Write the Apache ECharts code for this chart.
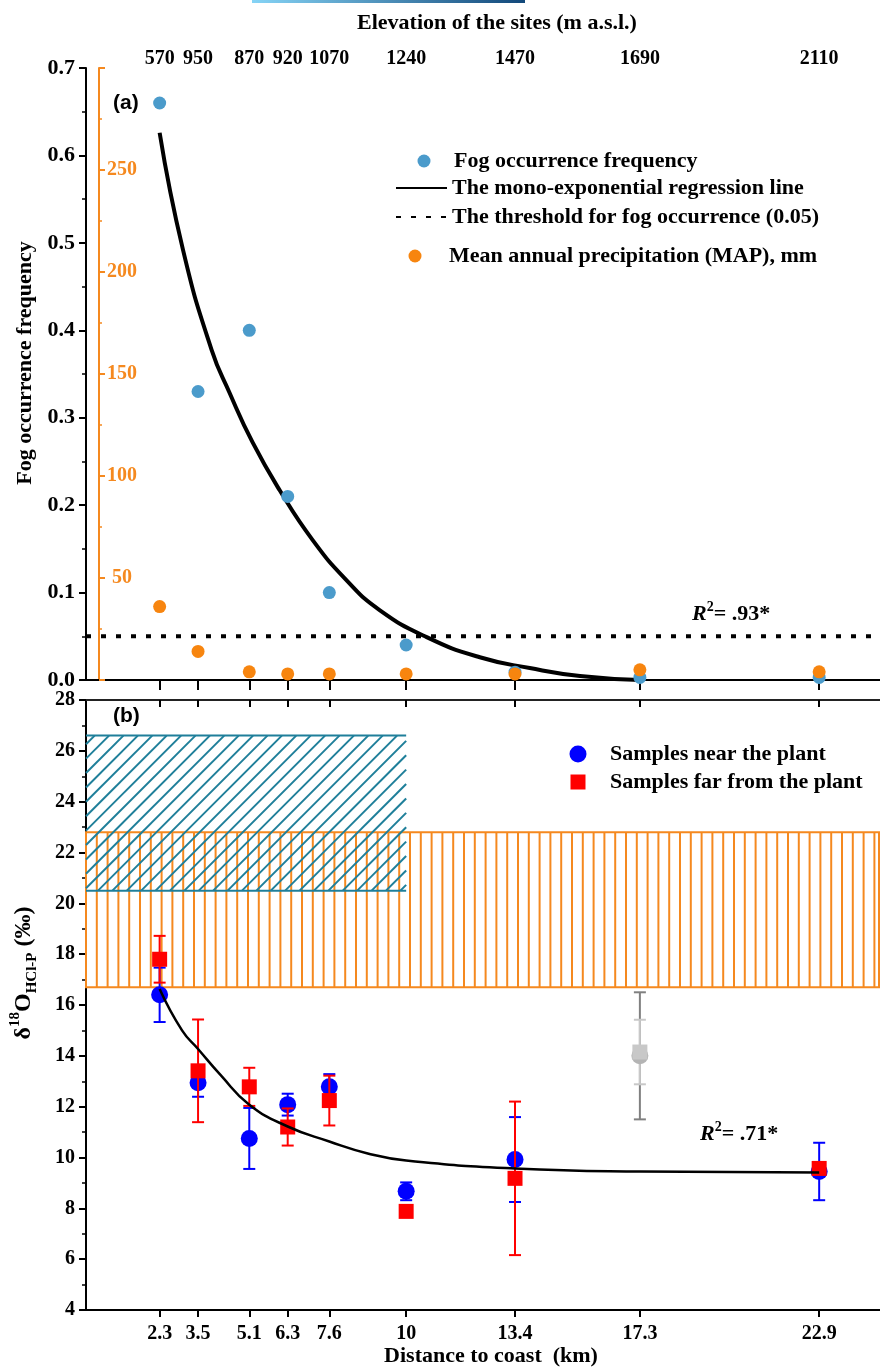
<!DOCTYPE html>
<html>
<head>
<meta charset="utf-8">
<script src="https://cdn.jsdelivr.net/npm/echarts@6/dist/echarts.min.js"></script>
<style>
  html, body { margin: 0; padding: 0; background: #fff; }
  #fog-chart { width: 880px; height: 1368px; }
</style>
</head>
<body>
<div id="fog-chart"></div>
<script>
// sites: distance to coast (km) and their elevation (m a.s.l.)
const distances = [2.3, 3.5, 5.1, 6.3, 7.6, 10, 13.4, 17.3, 22.9]
const elevations = [570, 950, 870, 920, 1070, 1240, 1470, 1690, 2110]
const xBounds = [0, 24.8]

// panel (a)
const fogFreq = [0.66, 0.33, 0.40, 0.21, 0.10, 0.04, 0.009, 0.003, 0.003]
const mapMm = [36, 14, 4, 3, 3, 3, 3, 5, 4]
const fogFitX = [2.3, 3.03, 3.92, 4.49, 5.2, 6.05, 7.08, 8.14, 9.17, 10.64, 12.3, 13.86, 15.43, 17.3]
const fogFitY = [0.626, 0.492, 0.378, 0.328, 0.272, 0.217, 0.160, 0.114, 0.080, 0.049, 0.026, 0.0137, 0.0046, 0]
const fogThreshold = 0.05

// panel (b)
const siteX = [2.3, 3.5, 5.1, 6.3, 7.6, 10, 13.4, 22.9]
const nearVal = [16.4, 12.94, 10.75, 12.08, 12.78, 8.67, 9.92, 9.45]
const nearErr = [1.07, 0.55, 1.2, 0.43, 0.5, 0.35, 1.67, 1.13]
const farVal = [17.8, 13.41, 12.78, 11.2, 12.24, 7.88, 9.18, 9.57]
const farErr = [0.92, 2.02, 0.75, 0.73, 0.98, 0.2, 3.02, 0.2]
const outX = [17.3]
const outNearVal = [14.0]
const outNearErr = [2.5]
const outFarVal = [14.15]
const outFarErr = [1.27]
const o18FitX = [2.3, 3.0, 3.5, 4.2, 5.1, 6.3, 7.6, 8.8, 10, 13.4, 17.3, 22.9]
const o18FitY = [16.63, 15.0, 14.27, 13.25, 12.08, 11.22, 10.63, 10.16, 9.88, 9.57, 9.45, 9.41]
// shaded ranges: [x from, x to, y from, y to]
const blueBand = [0, 10, 20.5, 26.6]
const orangeBand = [0, 24.8, 16.7, 22.8]

const SERIF = 'Liberation Serif'
const ORANGE = '#f5891f'
const TEAL = '#1f7f9a'
const bold = (size, color) => ({ fontFamily: SERIF, fontWeight: 'bold', fontSize: size, color: color || '#000' })
const zip = (xs, ys) => xs.map((x, i) => [x, ys[i]])

const errorBars = (color, half) => (params, api) => {
  const x = api.value(0), v = api.value(1), e = api.value(2)
  const hi = api.coord([x, v + e]), lo = api.coord([x, v - e])
  const st = { stroke: color, lineWidth: 2 }
  return {
    type: 'group', children: [
      { type: 'line', shape: { x1: hi[0], y1: hi[1], x2: lo[0], y2: lo[1] }, style: st },
      { type: 'line', shape: { x1: hi[0] - half, y1: hi[1], x2: hi[0] + half, y2: hi[1] }, style: st },
      { type: 'line', shape: { x1: lo[0] - half, y1: lo[1], x2: lo[0] + half, y2: lo[1] }, style: st }
    ]
  }
}

const hatch = (kind, color, step) => (params, api) => {
  const a = api.coord([api.value(0), api.value(3)])
  const b = api.coord([api.value(1), api.value(2)])
  const L = a[0], T = a[1], R = b[0], B = b[1]
  const st = { stroke: color, lineWidth: 2 }
  const ln = (x1, y1, x2, y2) => ({ type: 'line', shape: { x1, y1, x2, y2 }, style: st })
  const kids = []
  if (kind === 'vertical') {
    for (let x = L + step; x < R - 1; x += step) kids.push(ln(x, T, x, B))
    kids.push({ type: 'rect', shape: { x: L, y: T, width: R - L - 1, height: B - T }, style: { stroke: color, lineWidth: 2, fill: null } })
  } else {
    for (let k = L + T + step * 0.6; k < R + B; k += step) {
      const x1 = Math.max(L, k - B), x2 = Math.min(R, k - T)
      if (x2 > x1) kids.push(ln(x1, k - x1, x2, k - x2))
    }
    kids.push(ln(L, T, R, T), ln(L, B, R, B))
  }
  return { type: 'group', children: kids }
}

// legend boxes are placed by their first visible pixel
const legendAt = (item, left, cy, w, h, extra) => Object.assign({
  data: [item], left, top: cy - 11, itemWidth: w, itemHeight: h,
  padding: 0, itemGap: 0, selectedMode: false, textStyle: bold(22)
}, extra || {})
const hideSymbol = { itemStyle: { opacity: 0 } }

const chart = echarts.init(document.getElementById('fog-chart'))
chart.setOption({
  animation: false,
  backgroundColor: '#fff',
  grid: [
    { left: 86, right: 0, top: 68, height: 612 },
    { left: 86, right: 0, top: 700, height: 612 }
  ],
  legend: [
    legendAt('Fog occurrence frequency', 424 - 6.5, 161, 50, 13),
    legendAt('The mono-exponential regression line', 395, 188, 51, 13, hideSymbol),
    legendAt('The threshold for fog occurrence (0.05)', 395, 217, 51, 13, hideSymbol),
    legendAt('Mean annual precipitation (MAP), mm', 415 - 6.5, 256, 58, 13),
    legendAt('Samples near the plant', 578 - 8.5, 754, 54, 17),
    legendAt({ name: 'Samples far from the plant', icon: 'path://M0,0h10v10h-10z' }, 578 - 7.5, 782, 54, 15)
  ],
  xAxis: [
    {
      gridIndex: 0, type: 'value', position: 'bottom', min: xBounds[0], max: xBounds[1],
      axisLine: { lineStyle: { color: '#000', width: 2 } },
      axisTick: { customValues: distances, length: 7, lineStyle: { color: '#000', width: 2 } },
      axisLabel: { show: false }, splitLine: { show: false }
    },
    {
      gridIndex: 0, type: 'value', position: 'top', min: xBounds[0], max: xBounds[1],
      name: 'Elevation of the sites (m a.s.l.)', nameLocation: 'middle', nameGap: 34,
      nameTextStyle: Object.assign(bold(22), { padding: [0, 0, 0, 28] }),
      axisLine: { lineStyle: { color: '#000', width: 2 } },
      axisTick: { customValues: distances, inside: true, length: 10, lineStyle: { color: '#000', width: 2 } },
      axisLabel: Object.assign(bold(20), {
        customValues: distances, margin: -1,
        formatter: v => elevations[distances.indexOf(v)]
      }),
      splitLine: { show: false }
    },
    {
      gridIndex: 1, type: 'value', position: 'bottom', min: xBounds[0], max: xBounds[1],
      name: 'Distance to coast  (km)', nameLocation: 'middle', nameGap: 35,
      nameTextStyle: Object.assign(bold(22), { padding: [0, 0, 0, 16] }),
      axisLine: { lineStyle: { color: '#000', width: 2 } },
      axisTick: { customValues: distances, length: 7, lineStyle: { color: '#000', width: 2 } },
      axisLabel: Object.assign(bold(20), { customValues: distances, margin: 14 }),
      splitLine: { show: false }
    },
    {
      gridIndex: 1, type: 'value', position: 'top', min: xBounds[0], max: xBounds[1],
      axisLine: { lineStyle: { color: '#222', width: 2 } },
      axisTick: { customValues: distances, inside: true, length: 7, lineStyle: { color: '#000', width: 2 } },
      axisLabel: { show: false }, splitLine: { show: false }
    }
  ],
  yAxis: [
    {
      gridIndex: 0, type: 'value', min: 0, max: 0.7, interval: 0.1,
      name: 'Fog occurrence frequency', nameLocation: 'middle', nameGap: 47,
      nameTextStyle: Object.assign(bold(22), { padding: [0, 0, 0, 22] }),
      axisLine: { show: true, lineStyle: { color: '#000', width: 2 } },
      axisTick: { length: 7, lineStyle: { color: '#000', width: 2 } },
      minorTick: { show: true, splitNumber: 2, length: 4, lineStyle: { color: '#000', width: 1.5 } },
      axisLabel: Object.assign(bold(22), { margin: 11, formatter: v => v.toFixed(1) }),
      splitLine: { show: false }
    },
    {
      gridIndex: 0, type: 'value', min: 0, max: 300, interval: 50, position: 'left', offset: -13,
      axisLine: { show: true, lineStyle: { color: ORANGE, width: 2 } },
      axisTick: { inside: true, length: 6, lineStyle: { color: ORANGE, width: 2 } },
      minorTick: { show: true, splitNumber: 2, length: 3, lineStyle: { color: ORANGE, width: 1.5 } },
      axisLabel: Object.assign(bold(20, ORANGE), { inside: true, align: 'center', margin: 23, showMinLabel: false, showMaxLabel: false }),
      splitLine: { show: false }
    },
    {
      gridIndex: 1, type: 'value', min: 4, max: 28, interval: 2,
      name: '{m|δ}{sup|18}{m|O}{sub|HCl-P}{m| (‰)}', nameLocation: 'middle', nameGap: 46,
      nameTextStyle: Object.assign(bold(24), {
        padding: [0, 0, 0, 64],
        rich: {
          m: Object.assign(bold(24), { lineHeight: 32 }),
          sup: Object.assign(bold(15), { verticalAlign: 'top', lineHeight: 17 }),
          sub: Object.assign(bold(15), { verticalAlign: 'bottom', lineHeight: 15 })
        }
      }),
      axisLine: { show: true, lineStyle: { color: '#000', width: 2 } },
      axisTick: { length: 7, lineStyle: { color: '#000', width: 2 } },
      minorTick: { show: true, splitNumber: 2, length: 4, lineStyle: { color: '#000', width: 1.5 } },
      axisLabel: Object.assign(bold(20), { margin: 11 }),
      splitLine: { show: false }
    }
  ],
  series: [
    // panel (a)
    {
      name: 'The threshold for fog occurrence (0.05)', type: 'line', xAxisIndex: 0, yAxisIndex: 0,
      data: xBounds.map(x => [x, fogThreshold]), symbol: 'none', showSymbol: false,
      itemStyle: { color: '#000' },
      lineStyle: { color: '#000', width: 4, type: [5, 10] }, z: 3
    },
    {
      name: 'The mono-exponential regression line', type: 'line', xAxisIndex: 0, yAxisIndex: 0,
      data: zip(fogFitX, fogFitY), smooth: 0.5, symbol: 'none', showSymbol: false,
      itemStyle: { color: '#000' },
      lineStyle: { color: '#000', width: 4 }, z: 4
    },
    {
      name: 'Fog occurrence frequency', type: 'scatter', xAxisIndex: 0, yAxisIndex: 0,
      data: zip(distances, fogFreq), symbol: 'circle', symbolSize: 13,
      itemStyle: { color: '#4b9bcb', opacity: 1 }, z: 5
    },
    {
      name: 'Mean annual precipitation (MAP), mm', type: 'scatter', xAxisIndex: 0, yAxisIndex: 1,
      data: zip(distances, mapMm), symbol: 'circle', symbolSize: 13,
      itemStyle: { color: '#f7850f', opacity: 1 }, z: 6
    },
    // panel (b)
    {
      type: 'custom', xAxisIndex: 2, yAxisIndex: 2, data: [orangeBand],
      renderItem: hatch('vertical', ORANGE, 10.8), z: 1, silent: true
    },
    {
      type: 'custom', xAxisIndex: 2, yAxisIndex: 2, data: [blueBand],
      renderItem: hatch('diagonal', TEAL, 14.4), z: 2, silent: true
    },
    {
      type: 'custom', xAxisIndex: 2, yAxisIndex: 2,
      data: outX.map((x, i) => [x, outNearVal[i], outNearErr[i]]),
      renderItem: errorBars('#808080', 6), z: 3
    },
    {
      type: 'custom', xAxisIndex: 2, yAxisIndex: 2,
      data: outX.map((x, i) => [x, outFarVal[i], outFarErr[i]]),
      renderItem: errorBars('#c8c8c8', 6), z: 4
    },
    {
      type: 'scatter', xAxisIndex: 2, yAxisIndex: 2, data: zip(outX, outNearVal),
      symbol: 'circle', symbolSize: 17, itemStyle: { color: '#b4b4b4', opacity: 1 }, z: 5
    },
    {
      type: 'scatter', xAxisIndex: 2, yAxisIndex: 2, data: zip(outX, outFarVal),
      symbol: 'rect', symbolSize: 15, itemStyle: { color: '#c8c8c8', opacity: 1 }, z: 6
    },
    {
      type: 'custom', xAxisIndex: 2, yAxisIndex: 2,
      data: siteX.map((x, i) => [x, nearVal[i], nearErr[i]]),
      renderItem: errorBars('#0000ff', 6), z: 7
    },
    {
      name: 'Samples near the plant', type: 'scatter', xAxisIndex: 2, yAxisIndex: 2,
      data: zip(siteX, nearVal), symbol: 'circle', symbolSize: 17,
      itemStyle: { color: '#0000ff', opacity: 1 }, z: 8
    },
    {
      type: 'custom', xAxisIndex: 2, yAxisIndex: 2,
      data: siteX.map((x, i) => [x, farVal[i], farErr[i]]),
      renderItem: errorBars('#ff0000', 6), z: 9
    },
    {
      name: 'Samples far from the plant', type: 'scatter', xAxisIndex: 2, yAxisIndex: 2,
      data: zip(siteX, farVal), symbol: 'rect', symbolSize: 15,
      itemStyle: { color: '#ff0000', opacity: 1 }, z: 10
    },
    {
      type: 'line', xAxisIndex: 2, yAxisIndex: 2, data: zip(o18FitX, o18FitY),
      smooth: 0.5, symbol: 'none', showSymbol: false,
      lineStyle: { color: '#000', width: 2.5 }, z: 11
    }
  ],
  graphic: [
    {
      type: 'rect', left: 252, top: 0, shape: { width: 273, height: 3 },
      style: { fill: new echarts.graphic.LinearGradient(0, 0, 1, 0, [
        { offset: 0, color: '#86d4f6' }, { offset: 1, color: '#12487a' }
      ]) }
    },
    { type: 'text', left: 113, top: 93, style: { text: '(a)', font: 'bold 21px "Liberation Sans"', fill: '#000' } },
    { type: 'text', left: 113, top: 706, style: { text: '(b)', font: 'bold 21px "Liberation Sans"', fill: '#000' } },
    {
      type: 'text', left: 692, top: 600,
      style: {
        text: '{r|R}{sup|2}{m|= .93*}',
        rich: {
          r: { fontFamily: SERIF, fontWeight: 'bold', fontStyle: 'italic', fontSize: 22, lineHeight: 28, fill: '#000' },
          sup: { fontFamily: SERIF, fontWeight: 'bold', fontSize: 14, verticalAlign: 'top', lineHeight: 16, fill: '#000' },
          m: { fontFamily: SERIF, fontWeight: 'bold', fontSize: 22, lineHeight: 28, fill: '#000' }
        }
      }
    },
    {
      type: 'text', left: 700, top: 1120,
      style: {
        text: '{r|R}{sup|2}{m|= .71*}',
        rich: {
          r: { fontFamily: SERIF, fontWeight: 'bold', fontStyle: 'italic', fontSize: 22, lineHeight: 28, fill: '#000' },
          sup: { fontFamily: SERIF, fontWeight: 'bold', fontSize: 14, verticalAlign: 'top', lineHeight: 16, fill: '#000' },
          m: { fontFamily: SERIF, fontWeight: 'bold', fontSize: 22, lineHeight: 28, fill: '#000' }
        }
      }
    }
  ]
})
</script>
</body>
</html>
